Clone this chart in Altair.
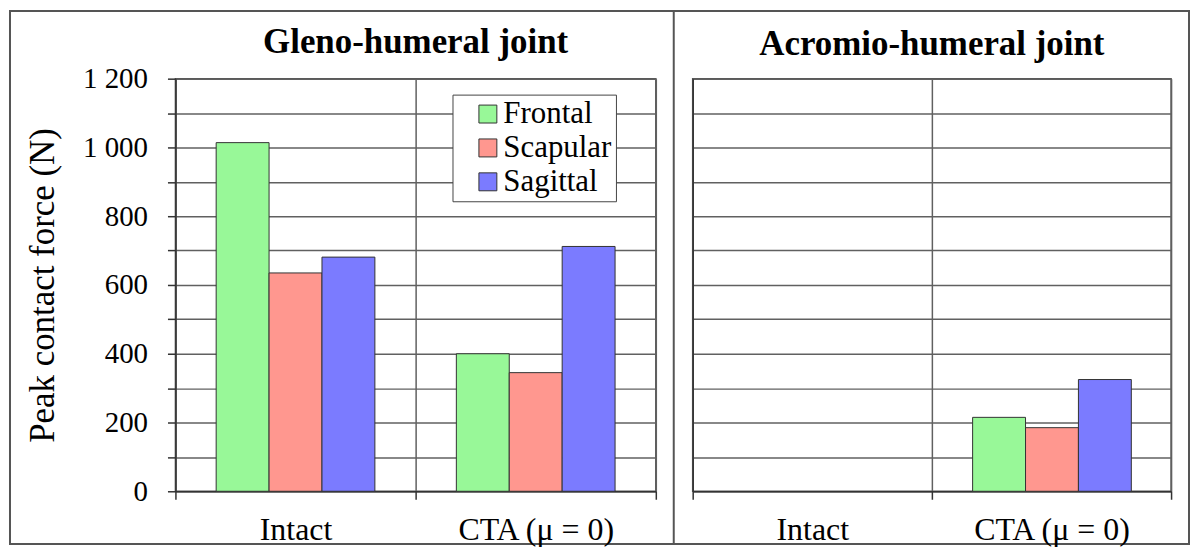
import altair as alt
import pandas as pd

conditions = ["Intact", "CTA (μ = 0)"]
series = ["Frontal", "Scapular", "Sagittal"]
gleno_frontal = [1014, 400]
gleno_scapular = [635, 345]
gleno_sagittal = [681, 712]
acromio_frontal = [None, 215]
acromio_scapular = [None, 185]
acromio_sagittal = [None, 325]
colors = ["#98F898", "#FF978F", "#7B7BFF"]
y_ticks = list(range(0, 1201, 100))
FONT = "Liberation Serif"


def build(fr, sc, sa):
    rows = []
    for i, c in enumerate(conditions):
        for s, vals in zip(series, [fr, sc, sa]):
            if vals[i] is not None:
                rows.append({"Condition": c, "Series": s, "Force": vals[i]})
    return pd.DataFrame(rows)


def make_title(text, offset):
    return alt.TitleParams(text, font=FONT, fontSize=35, fontWeight="bold",
                           frame="group", anchor="middle", offset=offset, color="black")


def bars_of(df, yaxis, legend):
    x = alt.X("Condition:N", sort=conditions,
              scale=alt.Scale(domain=conditions, paddingInner=0, paddingOuter=0),
              axis=alt.Axis(title=None, tickBand="extent", grid=True, ticks=True,
                            tickSize=8, labelAngle=0, labelPadding=15,
                            labelFontSize=32))
    xo = alt.XOffset("Series:N", sort=series,
                     scale=alt.Scale(domain=series, paddingInner=0, paddingOuter=0.77))
    y = alt.Y("Force:Q", scale=alt.Scale(domain=[0, 1200], nice=False), axis=yaxis)
    color = alt.Color("Series:N", sort=series,
                      scale=alt.Scale(domain=series, range=colors), legend=legend)
    return alt.Chart(df).mark_bar(stroke="#333", strokeWidth=1, opacity=1).encode(
        x=x, xOffset=xo, y=y, color=color)


left_axis = alt.Axis(values=y_ticks,
                     labelExpr="datum.value % 200 == 0 ? replace(format(datum.value, ','), ',', ' ') : ''",
                     grid=True, tickSize=8, labelPadding=20, labelFontSize=29,
                     title="Peak contact force (N)", titleFontSize=35,
                     titleFontWeight="normal", titlePadding=22)
right_axis = alt.Axis(values=y_ticks, labels=False, ticks=False, title=None,
                      grid=True, domain=True)

legend = alt.Legend(title=None, orient="none", legendX=278, legendY=16,
                    direction="vertical", fillColor="white", strokeColor="#444",
                    padding=4, symbolType="square", symbolSize=324,
                    symbolStrokeColor="#333", symbolStrokeWidth=1, symbolOffset=16,
                    symbolOpacity=1, labelFontSize=31, labelFont=FONT,
                    labelColor="black", rowPadding=2, labelOffset=0, labelLimit=300)

left = bars_of(build(gleno_frontal, gleno_scapular, gleno_sagittal),
               left_axis, legend).properties(
    width=482, height=414, title=make_title("Gleno-humeral joint", 5))
right = bars_of(build(acromio_frontal, acromio_scapular, acromio_sagittal),
                right_axis, None).properties(
    width=480, height=414, title=make_title("Acromio-humeral joint", 17))

# outer frame and panel divider, drawn from a thin leading cell
one = pd.DataFrame({"k": [0]})
frame = alt.Chart(one).mark_rect(fill="white", fillOpacity=0, stroke="#555",
                                 strokeWidth=2).encode(
    x=alt.value(-128), x2=alt.value(1055), y=alt.value(-68), y2=alt.value(467))
divider = alt.Chart(one).mark_rule(stroke="#555", strokeWidth=2).encode(
    x=alt.value(538), y=alt.value(-68), y2=alt.value(467))
decor = alt.layer(frame, divider).properties(
    width=1, height=414, view=alt.ViewBackground(stroke="transparent"))

chart = alt.hconcat(decor, left, right, spacing=37, bounds="flush").resolve_scale(
    color="independent").properties(padding=0).configure(
    font=FONT, background="white").configure_view(
    stroke="#555", strokeWidth=1.5).configure_axis(
    labelFont=FONT, titleFont=FONT, labelColor="black", titleColor="black",
    gridColor="#606060", gridWidth=1.5, gridOpacity=1, domainColor="#333",
    domainWidth=1.5, tickColor="#333", tickWidth=1.5)

chart.save("out.html", embed_options={"renderer": "svg", "actions": False})
